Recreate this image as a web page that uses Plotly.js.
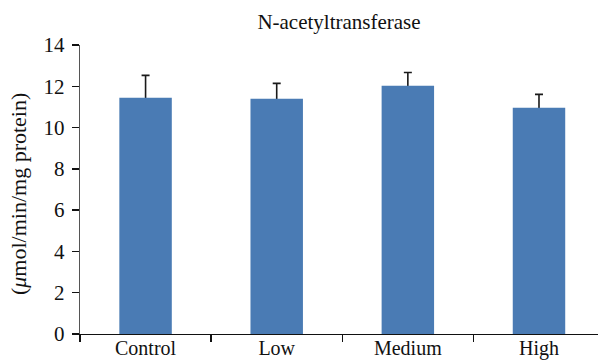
<!DOCTYPE html>
<html>
<head>
<meta charset="utf-8">
<script src="https://cdn.plot.ly/plotly-3.0.1.min.js"></script>
<style>html,body{margin:0;padding:0;background:#fff;}#chart{width:598px;height:362px;}</style>
</head>
<body>
<div id="chart"></div>
<script>
const categories = ["Control", "Low", "Medium", "High"];
const activity = [11.45, 11.4, 12.03, 10.96];
const errorUp = [1.08, 0.74, 0.64, 0.65];
const yTickValues = [0, 2, 4, 6, 8, 10, 12, 14];
const chartTitle = "N-acetyltransferase";
const yTitle = "(<i>μ</i>mol/min/mg protein)";

const serif = "'Liberation Serif', 'Times New Roman', Times, serif";

// Error bars carried by a transparent bar trace drawn underneath,
// so the lower half (and its cap) is hidden by the real bars.
const errTrace = {
  type: "bar",
  x: categories,
  y: activity,
  width: 0.4,
  marker: {color: "rgba(0,0,0,0)", line: {width: 0}},
  error_y: {
    type: "data",
    symmetric: true,
    array: errorUp,
    color: "#1a1a1a",
    thickness: 1.6,
    width: 4
  },
  hoverinfo: "none"
};

const barTrace = {
  type: "bar",
  x: categories,
  y: activity,
  width: 0.4,
  marker: {color: "#4A7BB4", line: {width: 0}},
  hoverinfo: "none"
};

const layout = {
  width: 598,
  height: 362,
  margin: {l: 80, r: 0, t: 45, b: 28, pad: 0},
  paper_bgcolor: "#ffffff",
  plot_bgcolor: "#ffffff",
  showlegend: false,
  barmode: "overlay",
  title: {
    text: chartTitle,
    font: {family: serif, size: 21, color: "#111"},
    xref: "paper", x: 0.5, xanchor: "center",
    yref: "container", y: 1 - 22/362, yanchor: "middle"
  },
  xaxis: {
    type: "category",
    range: [-0.5, 3.45],
    showline: true, linecolor: "#111", linewidth: 1.3,
    ticks: "outside", tickson: "boundaries", ticklen: 7, tickcolor: "#111", tickwidth: 1.3,
    ticklabelstandoff: -4,
    tickfont: {family: serif, size: 20, color: "#111"},
    showgrid: false, zeroline: false, fixedrange: true
  },
  yaxis: {
    range: [0, 14],
    tickvals: yTickValues,
    ticktext: yTickValues.map(String),
    showline: true, linecolor: "#555", linewidth: 1.3,
    ticks: "outside", ticklen: 7, tickcolor: "#111", tickwidth: 1.3,
    ticklabelstandoff: 3,
    tickfont: {family: serif, size: 21, color: "#111"},
    showgrid: false, zeroline: false, fixedrange: true
  },
  annotations: [{
    text: yTitle,
    textangle: -90,
    xref: "paper", x: 0, xanchor: "center", xshift: -62,
    yref: "paper", y: (334 - 194) / 289, yanchor: "middle",
    showarrow: false,
    font: {family: serif, size: 22, color: "#111"}
  }]
};

Plotly.newPlot("chart", [errTrace, barTrace], layout, {displayModeBar: false, staticPlot: true});
</script>
</body>
</html>
